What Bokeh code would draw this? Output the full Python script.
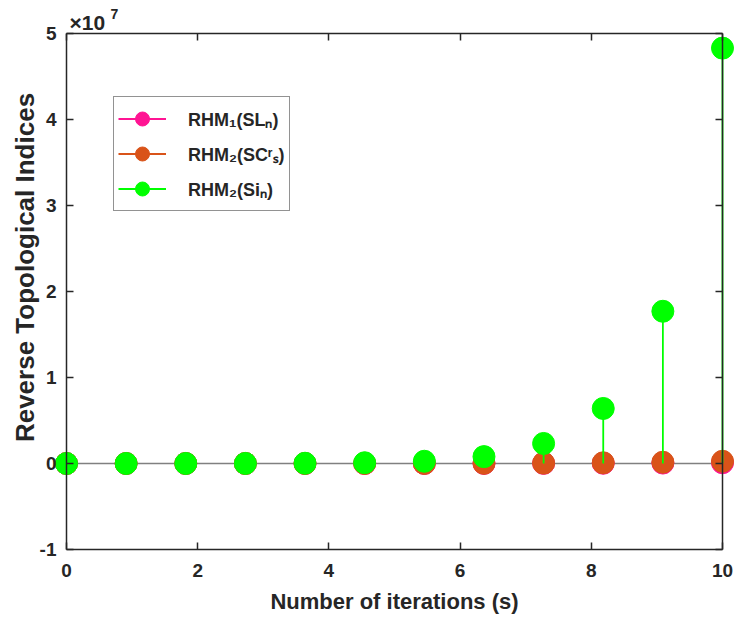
from bokeh.plotting import figure
from bokeh.models import (Range1d, LinearAxis, FixedTicker, Legend, LegendItem,
                          Label, ColumnDataSource, CustomJSTickFormatter)
from bokeh.embed import file_html
from bokeh.resources import INLINE

# ---------------- data ----------------
iterations = [0, 0.909, 1.818, 2.727, 3.636, 4.545, 5.455, 6.364, 7.273, 8.182, 9.091, 10]
rhm1_sl = [0, 10, 60, 200, 600, 1500, 3500, 7500, 15000, 28000, 50000, 85000]
rhm2_sc = [0, 30, 150, 500, 1500, 4000, 10000, 22000, 45000, 85000, 150000, 260000]
rhm2_si = [0, 1000, 3000, 10000, 30000, 90000, 260000, 800000, 2330000, 6400000, 17700000, 48300000]

series_values = [rhm1_sl, rhm2_sc, rhm2_si]
series_names = ["RHM\u2081(SL\u2099)", "RHM\u2082(SC\u02b3\u209b)", "RHM\u2082(Si\u2099)"]
series_colors = ["#FF1493", "#D95319", "#00FF00"]

x_lim = (0, 10)
y_lim = (-10000000, 50000000)
x_ticks = [0, 2, 4, 6, 8, 10]
y_ticks = [-10000000, 0, 10000000, 20000000, 30000000, 40000000, 50000000]
y_tick_labels = ["-1", "0", "1", "2", "3", "4", "5"]
y_scale_base = "\u00d710"
y_scale_exp = "7"

x_title = "Number of iterations (s)"
y_title = "Reverse Topological Indices"

FONT = "Liberation Sans"
AX = "#262626"

# ---------------- layout (pixels) ----------------
W, H = 735, 621
BOX_L, BOX_R, BOX_T, BOX_B = 66, 722, 33, 549   # axes box inside the canvas
YLABEL_CY = 267                                   # vertical centre of the y title
ppx = (BOX_R - BOX_L) / (x_lim[1] - x_lim[0])
ppy = (BOX_B - BOX_T) / (y_lim[1] - y_lim[0])
x_range = Range1d(x_lim[0] - BOX_L / ppx, x_lim[1] + (W - BOX_R) / ppx)
y_range = Range1d(y_lim[0] - (H - BOX_B) / ppy, y_lim[1] + BOX_T / ppy)
ylabel_c = y_lim[1] - (YLABEL_CY - BOX_T) / ppy

p = figure(width=W, height=H, x_range=x_range, y_range=y_range,
           output_backend="svg", toolbar_location=None,
           x_axis_type=None, y_axis_type=None,
           min_border_left=0, min_border_right=0, min_border_top=0, min_border_bottom=0)
p.background_fill_color = "white"
p.border_fill_color = "white"
p.outline_line_color = None
p.grid.visible = False


def style_axis(ax):
    ax.axis_line_color = AX
    ax.axis_line_width = 1.5
    ax.major_tick_line_color = AX
    ax.major_tick_line_width = 1.5
    ax.major_tick_in = 7
    ax.major_tick_out = 0
    ax.minor_tick_line_color = None


xa = LinearAxis(ticker=FixedTicker(ticks=x_ticks), fixed_location=y_lim[0], bounds=x_lim,
                axis_label=x_title)
ya = LinearAxis(ticker=FixedTicker(ticks=y_ticks), fixed_location=x_lim[0], bounds=y_lim)
ya.major_label_overrides = dict(zip(y_ticks, y_tick_labels))
for ax in (xa, ya):
    style_axis(ax)
    ax.major_label_text_font = FONT
    ax.major_label_text_font_style = "bold"
    ax.major_label_text_font_size = "19px"
    ax.major_label_text_color = AX
xa.major_label_standoff = 14
xa.axis_label_standoff = 9
xa.axis_label_text_font = FONT
xa.axis_label_text_font_style = "bold"
xa.axis_label_text_color = AX
xa.axis_label_text_font_size = "22px"
ya.major_label_standoff = 10
p.add_layout(xa, "below")
p.add_layout(ya, "left")

# y title carried by a line-less axis so it can sit where the reference has it
ytitle_ax = LinearAxis(ticker=FixedTicker(ticks=[]), fixed_location=x_lim[0],
                       bounds=(ylabel_c - 10000000, ylabel_c + 10000000),
                       axis_label=y_title, axis_line_color=None,
                       major_tick_line_color=None, minor_tick_line_color=None,
                       major_label_standoff=0, axis_label_standoff=27,
                       axis_label_text_font=FONT, axis_label_text_font_style="bold",
                       axis_label_text_color=AX, axis_label_text_font_size="26px")
p.add_layout(ytitle_ax, "left")

blank = CustomJSTickFormatter(code="return ''")
top_ax = LinearAxis(ticker=FixedTicker(ticks=x_ticks), formatter=blank,
                    fixed_location=y_lim[1], bounds=x_lim)
right_ax = LinearAxis(ticker=FixedTicker(ticks=y_ticks), formatter=blank,
                      fixed_location=x_lim[1], bounds=y_lim)
for ax in (top_ax, right_ax):
    style_axis(ax)
    ax.major_label_standoff = 0
    ax.major_label_text_font_size = "1px"
p.add_layout(top_ax, "above")
p.add_layout(right_ax, "right")

# stem baseline (spans the x limits)
p.line(x=[iterations[0], iterations[-1]], y=[0, 0], line_color="#808080", line_width=1.5)

items = []
for vals, name, color in zip(series_values, series_names, series_colors):
    src = ColumnDataSource(dict(x=iterations, y=vals, base=[0] * len(vals)))
    seg = p.segment(x0="x", y0="base", x1="x", y1="y", source=src,
                    line_color=color, line_width=1.8)
    sc = p.scatter("x", "y", source=src, marker="circle", size=22,
                   fill_color=color, line_color=color)
    items.append(LegendItem(label=name, renderers=[seg, sc]))

legend = Legend(items=items, location=(113, H - 211),
                glyph_width=48, glyph_height=35, label_height=35, spacing=0,
                padding=4, margin=0, label_standoff=22,
                label_text_font=FONT, label_text_font_style="bold",
                label_text_font_size="18px", label_text_color=AX,
                label_text_baseline="middle",
                border_line_color=AX, border_line_width=1.5,
                background_fill_color="white", background_fill_alpha=1.0)
p.add_layout(legend)

p.add_layout(Label(x=x_lim[0], y=y_lim[1], x_offset=3, y_offset=11, text=y_scale_base,
                   text_font=FONT, text_font_style="bold", text_font_size="21px",
                   text_color=AX, text_baseline="alphabetic", text_align="left"))
p.add_layout(Label(x=x_lim[0], y=y_lim[1], x_offset=44, y_offset=20, text=y_scale_exp,
                   text_font=FONT, text_font_style="bold", text_font_size="14px",
                   text_color=AX, text_baseline="alphabetic", text_align="left"))

open("out.html", "w").write(file_html(p, INLINE))
